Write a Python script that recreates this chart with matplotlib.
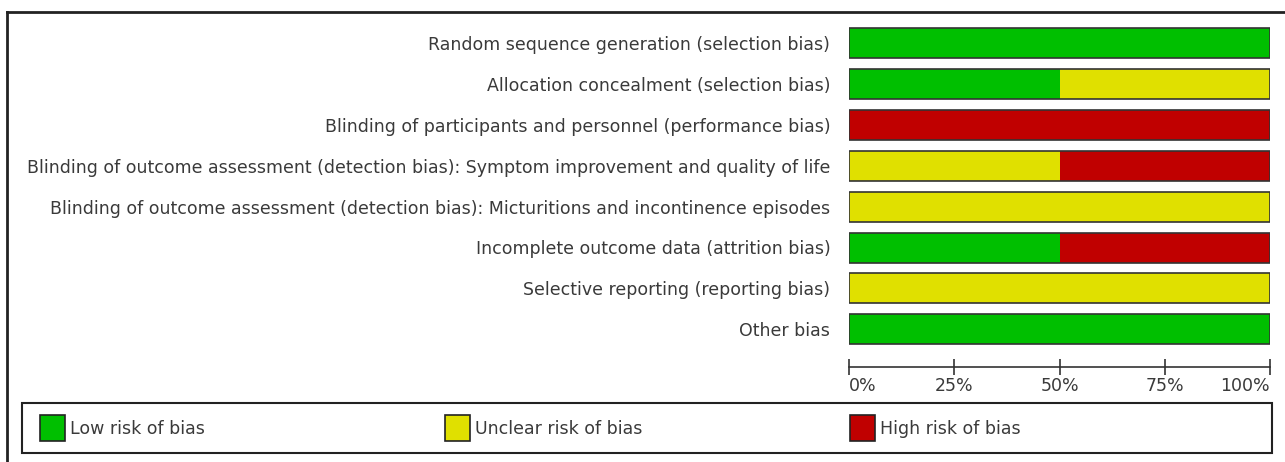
import matplotlib
matplotlib.use("Agg")
import matplotlib.pyplot as plt
from matplotlib.patches import Rectangle
from matplotlib.lines import Line2D

domains = [
    "Random sequence generation (selection bias)",
    "Allocation concealment (selection bias)",
    "Blinding of participants and personnel (performance bias)",
    "Blinding of outcome assessment (detection bias): Symptom improvement and quality of life",
    "Blinding of outcome assessment (detection bias): Micturitions and incontinence episodes",
    "Incomplete outcome data (attrition bias)",
    "Selective reporting (reporting bias)",
    "Other bias",
]
low = [100, 50, 0, 0, 0, 50, 0, 100]
unclear = [0, 50, 0, 50, 100, 0, 100, 0]
high = [0, 0, 100, 50, 0, 50, 0, 0]
legend_labels = ["Low risk of bias", "Unclear risk of bias", "High risk of bias"]
colors = ["#00BF00", "#E0E000", "#C00000"]
xticks = [0, 25, 50, 75, 100]
xticklabels = ["0%", "25%", "50%", "75%", "100%"]

W, H = 1285, 462
fig = plt.figure(figsize=(W / 100, H / 100), dpi=100)
FONT = "DejaVu Sans"
FS = 12.5
TC = "#3a3a3a"

def fx(px):
    return px / W

def fy(py):
    return 1 - py / H

# outer frame (top and left lines)
fig.add_artist(Line2D([fx(7), 1], [fy(12), fy(12)], color="#222222", lw=2, transform=fig.transFigure))
fig.add_artist(Line2D([fx(7), fx(7)], [fy(12), 0], color="#222222", lw=2, transform=fig.transFigure))

# axes: rows spaced 40.9 px, first center at y=43, axis line at y=367
sp = 40.9
top_px = 43 - 0.5 * sp
bot_px = 367
ax = fig.add_axes([fx(849), fy(bot_px), fx(1270) - fx(849), (bot_px - top_px) / H])
ybot = (bot_px - 43) / sp
ax.set_ylim(ybot, -0.5)
ax.set_xlim(0, 100)

ypos = list(range(len(domains)))
bh = 30 / sp
left = [0] * len(domains)
for vals, c in zip([low, unclear, high], colors):
    ax.barh(ypos, vals, left=left, height=bh, color=c, edgecolor="none")
    left = [a + b for a, b in zip(left, vals)]
# outlines per bar
ax.barh(ypos, left, height=bh, color="none", edgecolor="#333333", linewidth=1.2)

for s in ["top", "right", "left"]:
    ax.spines[s].set_visible(False)
ax.spines["bottom"].set_color("#333333")
ax.spines["bottom"].set_linewidth(1.2)

ax.set_yticks(ypos)
ax.set_yticklabels(domains, fontsize=FS, color=TC, family=FONT)
ax.tick_params(axis="y", length=0, pad=13.5)
ax.set_xticks(xticks)
ax.set_xticklabels(xticklabels, fontsize=FS, color=TC, family=FONT)
ax.tick_params(axis="x", direction="inout", length=12, width=1.2, color="#333333", pad=1.5)
tl = ax.get_xticklabels()
tl[0].set_horizontalalignment("left")
tl[-1].set_horizontalalignment("right")
ax.set_facecolor("none")

# legend box
fig.add_artist(Rectangle((fx(22), fy(453)), fx(1272) - fx(22), fy(403) - fy(453),
                         transform=fig.transFigure, fill=False, edgecolor="#222222", lw=1.5))
leg_x = [40, 445, 850]
for lx, lab, c in zip(leg_x, legend_labels, colors):
    fig.add_artist(Rectangle((fx(lx), fy(441)), fx(25), fy(415) - fy(441),
                             transform=fig.transFigure, facecolor=c, edgecolor="#222222", lw=1.2))
    fig.text(fx(lx + 30), fy(428.5), lab, fontsize=FS, color=TC, family=FONT,
             ha="left", va="center")

fig.savefig("out.png", dpi=100)
